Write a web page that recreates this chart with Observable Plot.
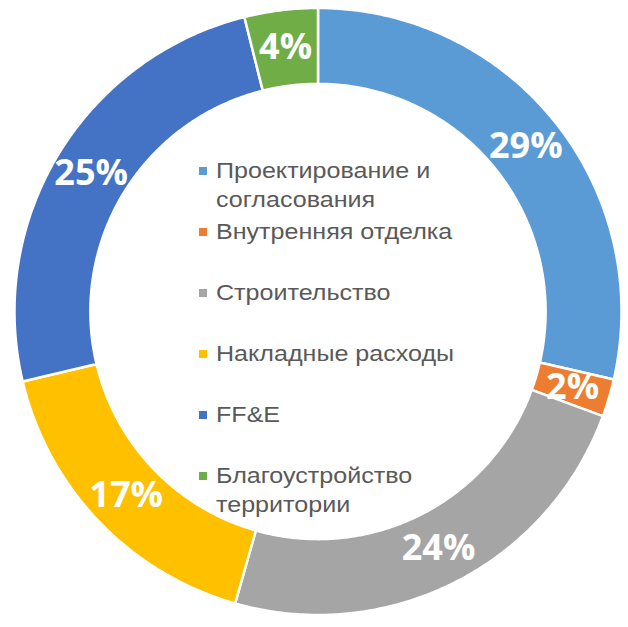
<!DOCTYPE html>
<html>
<head>
<meta charset="utf-8">
<script src="https://cdn.jsdelivr.net/npm/d3@7"></script>
<script src="https://cdn.jsdelivr.net/npm/@observablehq/plot@0.6"></script>
<style>
  html, body { margin: 0; padding: 0; background: #fff; }
  #wrap { position: relative; width: 628px; height: 627px; }
  #wrap svg { display: block; }
  #legend { position: absolute; left: 199px; top: 156px; font-family: "Liberation Sans", Arial, sans-serif; font-size: 22px; color: #595959; }
  .item { height: 61px; display: flex; align-items: flex-start; }
  .sw { width: 8px; height: 8px; margin-top: 10.5px; margin-right: 9px; flex: none; }
  .txt { line-height: 29px; max-width: 230px; transform: scaleX(1.14); transform-origin: 0 0; white-space: normal; }
</style>
</head>
<body>
<div id="wrap"></div>
<script>
const names = ["Проектирование и согласования", "Внутренняя отделка", "Строительство", "Накладные расходы", "FF&E", "Благоустройство территории"];
const shares = [28.6, 2.0, 23.8, 16.9, 24.8, 3.9];
const labels = ["29%", "2%", "24%", "17%", "25%", "4%"];
const colors = ["#5B9BD5", "#ED7D31", "#A5A5A5", "#FFC000", "#4472C4", "#70AD47"];

const innerRatio = 0.75;
const total = d3.sum(shares);
let acc = 0;
const slices = shares.map((v, i) => {
  const a0 = acc / total * 2 * Math.PI;
  acc += v;
  const a1 = acc / total * 2 * Math.PI;
  const n = Math.max(4, Math.ceil((a1 - a0) / (Math.PI / 360)));
  const pts = [];
  for (let k = 0; k <= n; k++) {
    const a = a0 + (a1 - a0) * k / n;
    pts.push({x: Math.sin(a), y: Math.cos(a)});
  }
  for (let k = n; k >= 0; k--) {
    const a = a0 + (a1 - a0) * k / n;
    pts.push({x: innerRatio * Math.sin(a), y: innerRatio * Math.cos(a)});
  }
  const am = (a0 + a1) / 2, rm = (1 + innerRatio) / 2;
  return {name: names[i], color: colors[i], label: labels[i], pts, lx: rm * Math.sin(am), ly: rm * Math.cos(am)};
});

const chart = Plot.plot({
  width: 628,
  height: 627,
  marginLeft: 14,
  marginRight: 7,
  marginTop: 7.5,
  marginBottom: 12.5,
  x: {domain: [-1, 1], axis: null},
  y: {domain: [-1, 1], axis: null},
  marks: [
    ...slices.map(s => Plot.line(s.pts, {x: "x", y: "y", fill: s.color, stroke: "white", strokeWidth: 2.5, curve: "linear-closed"})),
    Plot.text(slices, {x: "lx", y: "ly", text: "label", fill: "white", fontSize: 36, fontWeight: "bold", fontFamily: "Open Sans, Liberation Sans, sans-serif"})
  ]
});
const wrap = document.getElementById("wrap");
wrap.appendChild(chart);

const legend = document.createElement("div");
legend.id = "legend";
names.forEach((n, i) => {
  const it = document.createElement("div");
  it.className = "item";
  const sw = document.createElement("div");
  sw.className = "sw";
  sw.style.background = colors[i];
  const tx = document.createElement("div");
  tx.className = "txt";
  tx.textContent = n;
  it.appendChild(sw);
  it.appendChild(tx);
  legend.appendChild(it);
});
wrap.appendChild(legend);
</script>
</body>
</html>
